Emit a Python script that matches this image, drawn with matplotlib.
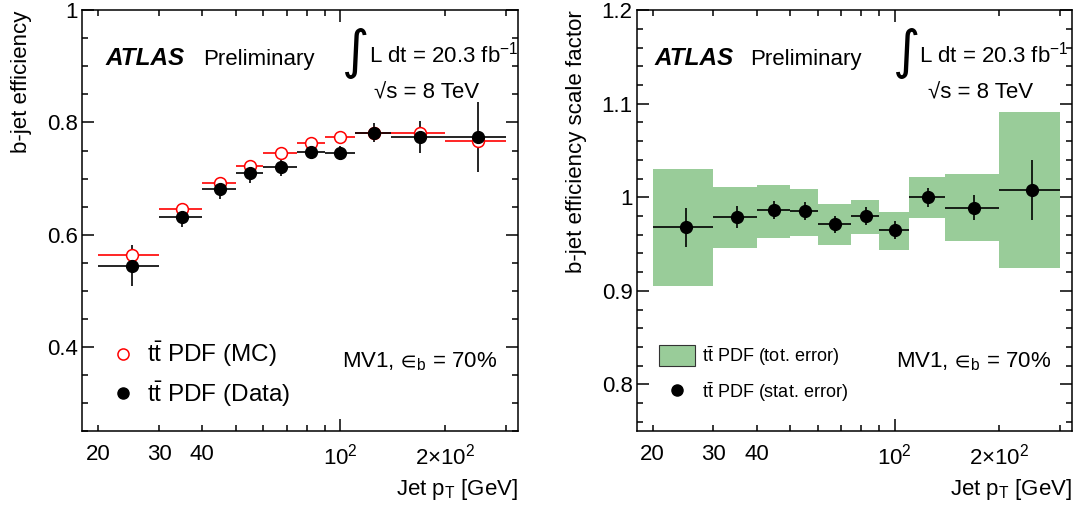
import numpy as np
import matplotlib
matplotlib.use('Agg')
import matplotlib.pyplot as plt
from matplotlib.ticker import FixedLocator, FixedFormatter
from matplotlib.lines import Line2D
from matplotlib.patches import Patch

plt.rcParams['font.family'] = ['Liberation Sans', 'DejaVu Sans']
plt.rcParams['mathtext.fontset'] = 'custom'
plt.rcParams['mathtext.rm'] = 'Liberation Sans'
plt.rcParams['mathtext.it'] = 'Liberation Sans:italic'
plt.rcParams['mathtext.bf'] = 'Liberation Sans:bold'
plt.rcParams['mathtext.fallback'] = 'stixsans'

# jet pT bins [GeV]
pt_edges = [20, 30, 40, 50, 60, 75, 90, 110, 140, 200, 300]
pt_center = [25, 35, 45, 55, 67.5, 82.5, 100, 125, 170, 250]

# b-jet efficiency (left)
eff_mc = [0.563, 0.645, 0.693, 0.722, 0.745, 0.764, 0.774, 0.782, 0.782, 0.767]
eff_mc_err = [0.004, 0.003, 0.003, 0.003, 0.003, 0.003, 0.003, 0.003, 0.004, 0.005]
eff_data = [0.545, 0.632, 0.681, 0.710, 0.721, 0.748, 0.746, 0.782, 0.774, 0.774]
eff_data_err = [0.036, 0.019, 0.018, 0.018, 0.016, 0.011, 0.012, 0.017, 0.028, 0.063]

# scale factor (right)
sf = [0.968, 0.979, 0.986, 0.985, 0.971, 0.980, 0.965, 1.000, 0.989, 1.008]
sf_stat = [0.021, 0.012, 0.0095, 0.0097, 0.009, 0.0099, 0.0094, 0.0099, 0.0135, 0.032]
sf_tot_lo = [0.905, 0.946, 0.957, 0.959, 0.949, 0.961, 0.944, 0.978, 0.953, 0.924]
sf_tot_hi = [1.030, 1.011, 1.0135, 1.009, 0.993, 0.9976, 0.984, 1.022, 1.025, 1.091]

x_minor = [20, 30, 40, 50, 60, 70, 80, 90, 200, 300]
x_minor_labels = ['20', '30', '40', '', '', '', '', '', r'$2{\times}10^{2}$', '']

green = '#99cc99'
tsize = 16

edges = np.array(pt_edges, float)
xc = np.array(pt_center)
xerr = [xc - edges[:-1], edges[1:] - xc]


def style(ax, ylim, ymajor, yminor):
    ax.set_xscale('log')
    ax.set_xlim(18, 325)
    ax.set_ylim(*ylim)
    ax.xaxis.set_major_locator(FixedLocator([100]))
    ax.xaxis.set_major_formatter(FixedFormatter([r'$10^{2}$']))
    ax.xaxis.set_minor_locator(FixedLocator(x_minor))
    ax.xaxis.set_minor_formatter(FixedFormatter(x_minor_labels))
    ax.yaxis.set_major_locator(FixedLocator(ymajor))
    ax.yaxis.set_major_formatter(FixedFormatter(['%g' % v for v in ymajor]))
    ax.yaxis.set_minor_locator(FixedLocator(yminor))
    ax.tick_params(which='both', direction='in', top=True, right=True,
                   labelsize=tsize, width=1.1)
    ax.tick_params(which='major', length=8.6)
    ax.tick_params(which='minor', length=4.3)
    ax.tick_params(axis='x', which='both', pad=9)
    ax.tick_params(axis='y', which='both', pad=3)
    for s in ax.spines.values():
        s.set_linewidth(1.1)
    ax.set_xlabel(r'Jet p$_{\mathrm{T}}$ [GeV]', fontsize=tsize, loc='right')
    ax.xaxis.label.set_va('top')
    ax.xaxis.set_label_coords(1.0, -0.11)


def header(ax, xa, xp, xi, xl, xs):
    ax.text(xa, 0.87, 'ATLAS', transform=ax.transAxes, fontsize=17.5,
            fontweight='bold', fontstyle='italic', va='baseline')
    ax.text(xp, 0.87, 'Preliminary', transform=ax.transAxes, fontsize=tsize,
            va='baseline')
    ax.text(xi, 0.898, '\u222b', transform=ax.transAxes, fontsize=38,
            family='DejaVu Sans', va='center', ha='center')
    ax.text(xl, 0.877, r'L dt = 20.3 fb$^{-1}$', transform=ax.transAxes,
            fontsize=tsize, va='baseline')
    ax.text(xs, 0.79, '\u221as = 8 TeV', transform=ax.transAxes,
            fontsize=tsize, va='baseline')
    ax.text(0.953, 0.152, r'MV1,$\,{\in\!}_{\mathrm{b}}$ = 70%',
            transform=ax.transAxes, fontsize=tsize, va='baseline', ha='right')


fig = plt.figure(figsize=(10.78, 5.12), dpi=100)
ax1 = fig.add_axes([0.0761, 0.158, 0.4044, 0.822])
ax2 = fig.add_axes([0.5906, 0.158, 0.4036, 0.822])

#============================   LEFT: efficiency   ============================
ax1.errorbar(xc, eff_mc, yerr=eff_mc_err, xerr=xerr, fmt='o', color='red',
             mfc='white', mec='red', ms=8.5, mew=1.1, elinewidth=1.2, capsize=0)
ax1.errorbar(xc, eff_data, yerr=eff_data_err, xerr=xerr, fmt='o', color='black',
             ms=8.5, elinewidth=1.2, capsize=0)
style(ax1, (0.25, 1.0), [0.4, 0.6, 0.8, 1.0], np.arange(0.25, 1.0, 0.05))
ax1.set_ylabel('b-jet efficiency', fontsize=tsize, loc='top')
ax1.yaxis.set_label_coords(-0.115, 1.0)
header(ax1, 0.053, 0.2775, 0.628, 0.658, 0.67)

h_mc = Line2D([], [], ls='none', marker='o', ms=8, mfc='white', mec='red', mew=1.1)
h_data = Line2D([], [], ls='none', marker='o', ms=8, color='black')
ax1.legend([h_mc, h_data], [r'$\mathrm{t\bar{t}}$ PDF (MC)', r'$\mathrm{t\bar{t}}$ PDF (Data)'],
           loc='center left', bbox_to_anchor=(0.066, 0.135), frameon=False,
           fontsize=17.5, borderpad=0, borderaxespad=0, handlelength=1.0,
           handletextpad=0.5, labelspacing=0.42)

#============================   RIGHT: scale factor   =========================
ax2.bar(edges[:-1], np.array(sf_tot_hi) - np.array(sf_tot_lo), bottom=sf_tot_lo,
        width=np.diff(edges), align='edge', color=green, lw=0)
ax2.errorbar(xc, sf, yerr=sf_stat, xerr=xerr, fmt='o', color='black',
             ms=8.5, elinewidth=1.2, capsize=0)
style(ax2, (0.75, 1.2), [0.8, 0.9, 1.0, 1.1, 1.2], np.arange(0.76, 1.2, 0.02))
ax2.set_ylabel('b-jet efficiency scale factor', fontsize=tsize, loc='top')
ax2.yaxis.set_label_coords(-0.115, 1.0)
header(ax2, 0.042, 0.26, 0.62, 0.649, 0.67)

h_tot = Patch(facecolor=green, edgecolor='#333333', lw=0.8)
h_stat = Line2D([], [], ls='none', marker='o', ms=8, color='black')
ax2.legend([h_tot, h_stat], [r'$\mathrm{t\bar{t}}$ PDF (tot. error)',
                             r'$\mathrm{t\bar{t}}$ PDF (stat. error)'],
           loc='center left', bbox_to_anchor=(0.051, 0.135), frameon=False,
           fontsize=13, borderpad=0, borderaxespad=0, handlelength=2.0,
           handleheight=1.4, handletextpad=0.4, labelspacing=0.72)

fig.savefig('out.png', dpi=100)
